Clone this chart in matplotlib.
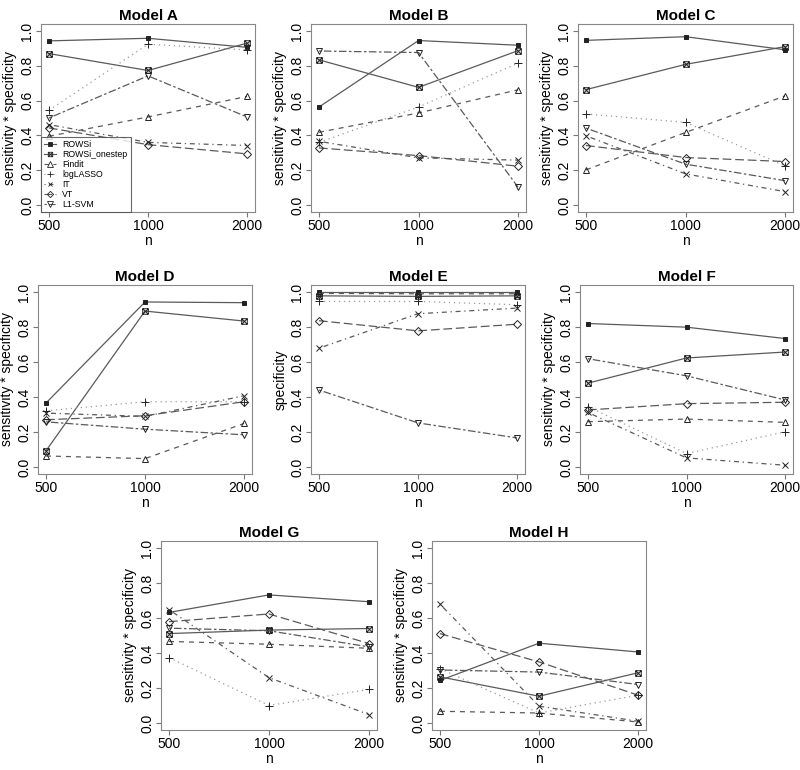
import matplotlib
matplotlib.use("Agg")
import matplotlib.pyplot as plt
from matplotlib.path import Path
from matplotlib.lines import Line2D
import numpy as np

"""
sensitivity * specificity of each method, by sample size, for models A-H
"""

n_labels = ["500", "1000", "2000"]
methods = ["ROWSi", "ROWSi_onestep", "Findit", "logLASSO", "IT", "VT", "L1-SVM"]
models = ["A", "B", "C", "D", "E", "F", "G", "H"]

# one list per method, each with values at n = 500, 1000, 2000
model_A = {
    "ROWSi":         [0.943, 0.958, 0.906],
    "ROWSi_onestep": [0.870, 0.773, 0.930],
    "Findit":        [0.395, 0.506, 0.624],
    "logLASSO":      [0.544, 0.924, 0.891],
    "IT":            [0.462, 0.360, 0.342],
    "VT":            [0.443, 0.347, 0.294],
    "L1-SVM":        [0.500, 0.742, 0.506],
}
model_B = {
    "ROWSi":         [0.563, 0.945, 0.918],
    "ROWSi_onestep": [0.834, 0.676, 0.887],
    "Findit":        [0.418, 0.529, 0.662],
    "logLASSO":      [0.360, 0.563, 0.815],
    "IT":            [0.366, 0.271, 0.258],
    "VT":            [0.328, 0.284, 0.223],
    "L1-SVM":        [0.885, 0.876, 0.103],
}
model_C = {
    "ROWSi":         [0.946, 0.967, 0.892],
    "ROWSi_onestep": [0.663, 0.808, 0.910],
    "Findit":        [0.202, 0.417, 0.627],
    "logLASSO":      [0.523, 0.475, 0.225],
    "IT":            [0.398, 0.179, 0.077],
    "VT":            [0.342, 0.273, 0.250],
    "L1-SVM":        [0.442, 0.235, 0.140],
}
model_D = {
    "ROWSi":         [0.365, 0.943, 0.939],
    "ROWSi_onestep": [0.092, 0.891, 0.834],
    "Findit":        [0.063, 0.048, 0.249],
    "logLASSO":      [0.321, 0.373, 0.373],
    "IT":            [0.308, 0.289, 0.407],
    "VT":            [0.270, 0.293, 0.373],
    "L1-SVM":        [0.258, 0.216, 0.184],
}
model_E = {
    "ROWSi":         [1.000, 1.000, 1.000],
    "ROWSi_onestep": [0.978, 0.975, 0.978],
    "Findit":        [0.992, 0.990, 0.990],
    "logLASSO":      [0.946, 0.946, 0.927],
    "IT":            [0.679, 0.876, 0.908],
    "VT":            [0.836, 0.778, 0.816],
    "L1-SVM":        [0.440, 0.252, 0.166],
}
model_F = {
    "ROWSi":         [0.820, 0.799, 0.734],
    "ROWSi_onestep": [0.479, 0.623, 0.657],
    "Findit":        [0.259, 0.274, 0.255],
    "logLASSO":      [0.345, 0.077, 0.201],
    "IT":            [0.312, 0.052, 0.010],
    "VT":            [0.326, 0.362, 0.370],
    "L1-SVM":        [0.619, 0.521, 0.383],
}
model_G = {
    "ROWSi":         [0.632, 0.732, 0.693],
    "ROWSi_onestep": [0.511, 0.531, 0.540],
    "Findit":        [0.466, 0.450, 0.427],
    "logLASSO":      [0.374, 0.100, 0.192],
    "IT":            [0.648, 0.259, 0.048],
    "VT":            [0.579, 0.623, 0.454],
    "L1-SVM":        [0.542, 0.527, 0.435],
}
model_H = {
    "ROWSi":         [0.243, 0.456, 0.406],
    "ROWSi_onestep": [0.264, 0.153, 0.287],
    "Findit":        [0.067, 0.057, 0.006],
    "logLASSO":      [0.310, 0.057, 0.159],
    "IT":            [0.680, 0.096, 0.010],
    "VT":            [0.511, 0.349, 0.159],
    "L1-SVM":        [0.303, 0.291, 0.220],
}
all_models = [model_A, model_B, model_C, model_D, model_E, model_F, model_G, model_H]
ylabels = ["sensitivity * specificity"] * 8
ylabels[4] = "specificity"

plt.rcParams['font.family'] = ['Liberation Sans', 'DejaVu Sans']

# square with a cross in it (like R's pch 7)
boxx = Path([(-1, -1), (1, -1), (1, 1), (-1, 1), (-1, -1), (-1, -1), (1, 1), (-1, 1), (1, -1)],
            [Path.MOVETO, Path.LINETO, Path.LINETO, Path.LINETO, Path.CLOSEPOLY,
             Path.MOVETO, Path.LINETO, Path.MOVETO, Path.LINETO])

line_col = '#5a5a5a'
mark_col = '#222222'
styles = {
    "ROWSi":         dict(ls='-', marker='s', ms=3.5, mfc=mark_col),
    "ROWSi_onestep": dict(ls='-', marker=boxx, ms=4, mfc='none'),
    "Findit":        dict(ls=(0, (4, 4)), marker='^', ms=5, mfc='none'),
    "logLASSO":      dict(ls=(0, (1, 3)), marker='+', ms=6, mfc='none'),
    "IT":            dict(ls=(0, (1, 3, 4, 3)), marker='x', ms=4, mfc='none'),
    "VT":            dict(ls=(0, (7, 3)), marker='D', ms=4, mfc='none'),
    "L1-SVM":        dict(ls=(0, (2, 2, 6, 2)), marker='v', ms=5, mfc='none'),
}

W, H = 800, 770
# axes boxes in pixels: left, top, right, bottom
boxes = [(41, 24, 255, 212), (311, 24, 526, 212), (578, 24, 793, 212),
         (38, 285, 252, 474), (311, 285, 525, 474), (580, 285, 793, 474),
         (161, 541, 377, 730), (432, 541, 646, 730)]

fig = plt.figure(figsize=(W / 100, H / 100), dpi=100)
x = np.arange(1, 4)

for i, (name, data) in enumerate(zip(models, all_models)):
    l, t, r, b = boxes[i]
    ax = fig.add_axes([l / W, 1 - b / H, (r - l) / W, (b - t) / H])
    for m in methods:
        st = styles[m]
        lc = '#9a9a9a' if m == "logLASSO" else line_col
        ax.plot(x, data[m], color=lc, lw=0.9, ls=st['ls'], marker=st['marker'],
                ms=st['ms'], mfc=st['mfc'], mec=mark_col, mew=0.7)
    ax.set_xlim(0.92, 3.08)
    ax.set_ylim(-0.04, 1.04)
    ax.set_xticks(x)
    ax.set_xticklabels(n_labels, fontsize=10)
    ax.set_yticks(np.arange(0, 1.01, 0.2))
    ax.set_yticklabels(["%.1f" % v for v in np.arange(0, 1.01, 0.2)], fontsize=10,
                       rotation=90, va='center')
    ax.tick_params(length=3.5, color='#777777', pad=1.5)
    for s in ax.spines.values():
        s.set_color('#888888')
    ax.set_title("Model " + name, fontsize=11, fontweight='bold', pad=3)
    ax.set_xlabel("n", fontsize=10, labelpad=1)
    ax.set_ylabel(ylabels[i], fontsize=10, labelpad=2)

    if name == "A":
        handles = []
        for m in methods:
            st = styles[m]
            lc = '#9a9a9a' if m == "logLASSO" else line_col
            handles.append(Line2D([], [], color=lc, lw=0.8, ls=st['ls'], marker=st['marker'],
                                  ms=st['ms'] * 0.8, mfc=st['mfc'], mec=mark_col, mew=0.6))
        leg = ax.legend(handles, methods, loc='lower left', fontsize=6.3, frameon=True,
                        fancybox=False, borderaxespad=0, handlelength=1.4,
                        labelspacing=0.12, borderpad=0.35, handletextpad=0.7)
        leg.get_frame().set_edgecolor('#444444')
        leg.get_frame().set_linewidth(0.8)

plt.savefig("out.png", dpi=100)
